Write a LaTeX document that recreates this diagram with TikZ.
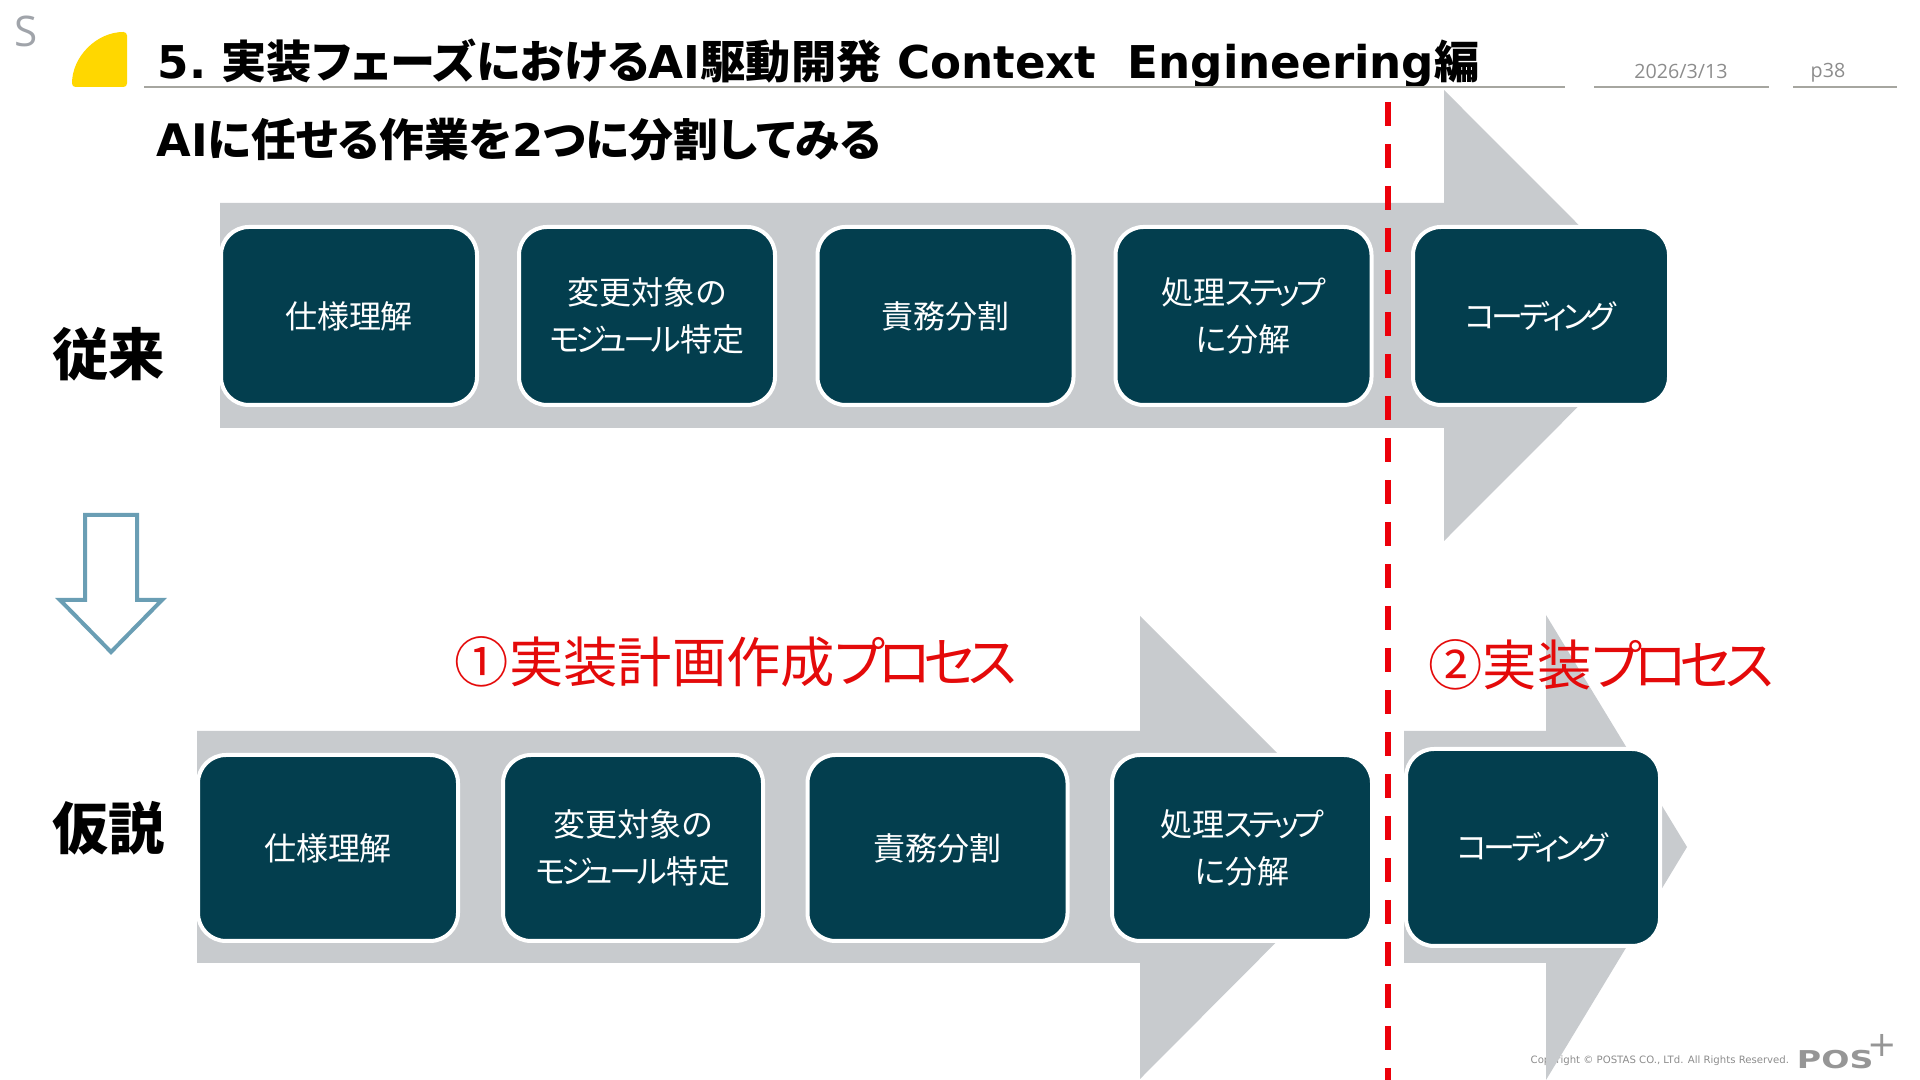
\documentclass[tikz,border=0pt]{standalone}
\usepackage{fontspec}
\setmainfont{Noto Sans CJK JP}[RawFeature=+palt]
\newfontfamily\latfont{DejaVu Sans}
\newfontfamily\opfont{Open Sans}
\newcommand{\kn}[1]{{\addfontfeatures{LetterSpace=-13}#1}}
\usepackage{xcolor}
\definecolor{boxteal}{RGB}{3,62,78}
\definecolor{bargray}{RGB}{200,203,206}
\definecolor{redtxt}{RGB}{228,10,10}
\definecolor{reddash}{RGB}{236,0,10}
\definecolor{rulegray}{RGB}{166,166,160}
\definecolor{txtgray}{RGB}{140,140,140}
\definecolor{sgray}{RGB}{160,164,170}
\definecolor{logogray}{RGB}{150,150,150}
\definecolor{yellowq}{RGB}{255,215,0}
\definecolor{downblue}{RGB}{106,158,180}

\begin{document}
\begin{tikzpicture}
\tikzset{
  BX/.style={draw=white,fill=boxteal,line width=0.04cm,rectangle,rounded corners=0.28cm,minimum width=#1,font=\fontsize{9.1}{13.4}\selectfont\color{white},align=center,inner sep=0pt},
  BA/.style={BX=2.56cm,minimum height=1.78cm},
  BB/.style={BX=2.60cm,minimum height=1.86cm},
  BAR/.style={fill=bargray},
  RL/.style={draw=rulegray,line width=0.02cm},
  HD/.style={anchor=west,inner sep=0pt,font=\fontsize{12.75}{15}\selectfont\bfseries},
  LB/.style={inner sep=0pt,font=\fontsize{16}{18}\selectfont\bfseries},
  RD/.style={inner sep=0pt,font=\fontsize{15.45}{18}\selectfont\color{redtxt}},
  GR/.style={inner sep=0pt,font=\fontsize{5.6}{7}\opfont\selectfont\color{txtgray}},
}
\useasboundingbox (0,0) rectangle (19.2,10.8);

% footer goes under the arrows
\node[inner sep=0pt,anchor=west,font=\fontsize{2.88}{4}\latfont\selectfont\color{txtgray}](copy) at (15.30,0.19){Copyright © POSTAS CO., LTd. All Rights Reserved.};
\node[inner sep=0pt,anchor=west,xscale=1.35,font=\fontsize{7}{8}\latfont\bfseries\selectfont\color{logogray}](logo) at (17.96,0.20){POS};
\node[inner sep=0pt,font=\fontsize{10}{10}\latfont\selectfont\color{logogray}](plus) at (18.82,0.35){+};

% big arrows
\fill[BAR] (2.20,8.77)--(14.44,8.77)--(14.44,9.90)--(16.69,7.645)--(14.44,5.39)--(14.44,6.52)--(2.20,6.52)--cycle;
\fill[BAR] (1.97,3.49)--(11.40,3.49)--(11.40,4.64)--(13.71,2.33)--(11.40,0.01)--(11.40,1.17)--(1.97,1.17)--cycle;
\fill[BAR] (14.04,3.49)--(15.46,3.49)--(15.46,4.65)--(16.87,2.33)--(15.46,0.00)--(15.46,1.17)--(14.04,1.17)--cycle;

% header
\node[inner sep=0pt,font=\fontsize{12}{14}\opfont\selectfont\color{sgray}](sheet) at (0.26,10.49){S};
\fill[yellowq,rounded corners=1pt] (0.72,9.93) arc[start angle=180,end angle=90,radius=0.55]--(1.27,9.93)--cycle;
\node[HD,font=\fontsize{12.85}{15}\selectfont\bfseries](title) at (1.57,10.16){{\latfont 5.}\hspace{0.4pt} 実装フェーズにおける{\latfont AI}駆動開発{\latfont\ Context\ \ Engineering}編};
\node[HD](subtitle) at (1.56,9.40){{\latfont AI}に任せる作業を{\latfont 2}つに分割してみる};
\node[GR](date) at (16.81,10.09){2026/3/13};
\node[GR](page) at (18.28,10.07){p38};

\coordinate(titleL) at (1.44,9.93);
\coordinate(titleR) at (15.65,9.93);
\coordinate(dateL)  at (15.94,9.93);
\coordinate(dateR)  at (17.69,9.93);
\coordinate(pageL)  at (17.93,9.93);
\coordinate(pageR)  at (18.97,9.93);
\draw[RL](titleL)--(titleR);
\draw[RL](dateL)--(dateR);
\draw[RL](pageL)--(pageR);

\node[LB](old) at (1.09,7.26){従来};
\node[LB](new) at (1.09,2.52){仮説};

% down arrow
\draw[draw=downblue,fill=white,line width=0.04cm,miter limit=6] (0.85,5.65)--(1.37,5.65)--(1.37,4.80)--(1.62,4.80)--(1.11,4.28)--(0.60,4.80)--(0.85,4.80)--cycle;

\node[BA](a1) at ( 3.49,7.64){仕様理解};
\node[BA](a2) at ( 6.47,7.64){変更対象の\\\kn{モジュール}特定};
\node[BA](a3) at ( 9.455,7.64){責務分割};
\node[BA](a4) at (12.435,7.64){処理\kn{ステップ}\\に分解};
\node[BA](a5) at (15.41,7.64){\kn{コーディング}};

\node[BB](b1) at ( 3.28,2.32){仕様理解};
\node[BB](b2) at ( 6.33,2.32){変更対象の\\\kn{モジュール}特定};
\node[BB](b3) at ( 9.375,2.32){責務分割};
\node[BB](b4) at (12.42,2.32){処理\kn{ステップ}\\に分解};
\node[BX=2.54cm,minimum height=1.97cm](b5) at (15.33,2.325){\kn{コーディング}};

\node[RD](plan) at (7.36,4.18){①実装計画作成\kn{プロセス}};
\node[RD](impl) at (16.01,4.15){②実装\kn{プロセス}};

% split line
\coordinate(splitT) at (13.88,9.78);
\coordinate(splitB) at (13.88,0.00);
\draw[reddash,line width=0.06cm,dash pattern=on 0.245cm off 0.175cm](splitT)--(splitB);
\end{tikzpicture}
\end{document}
